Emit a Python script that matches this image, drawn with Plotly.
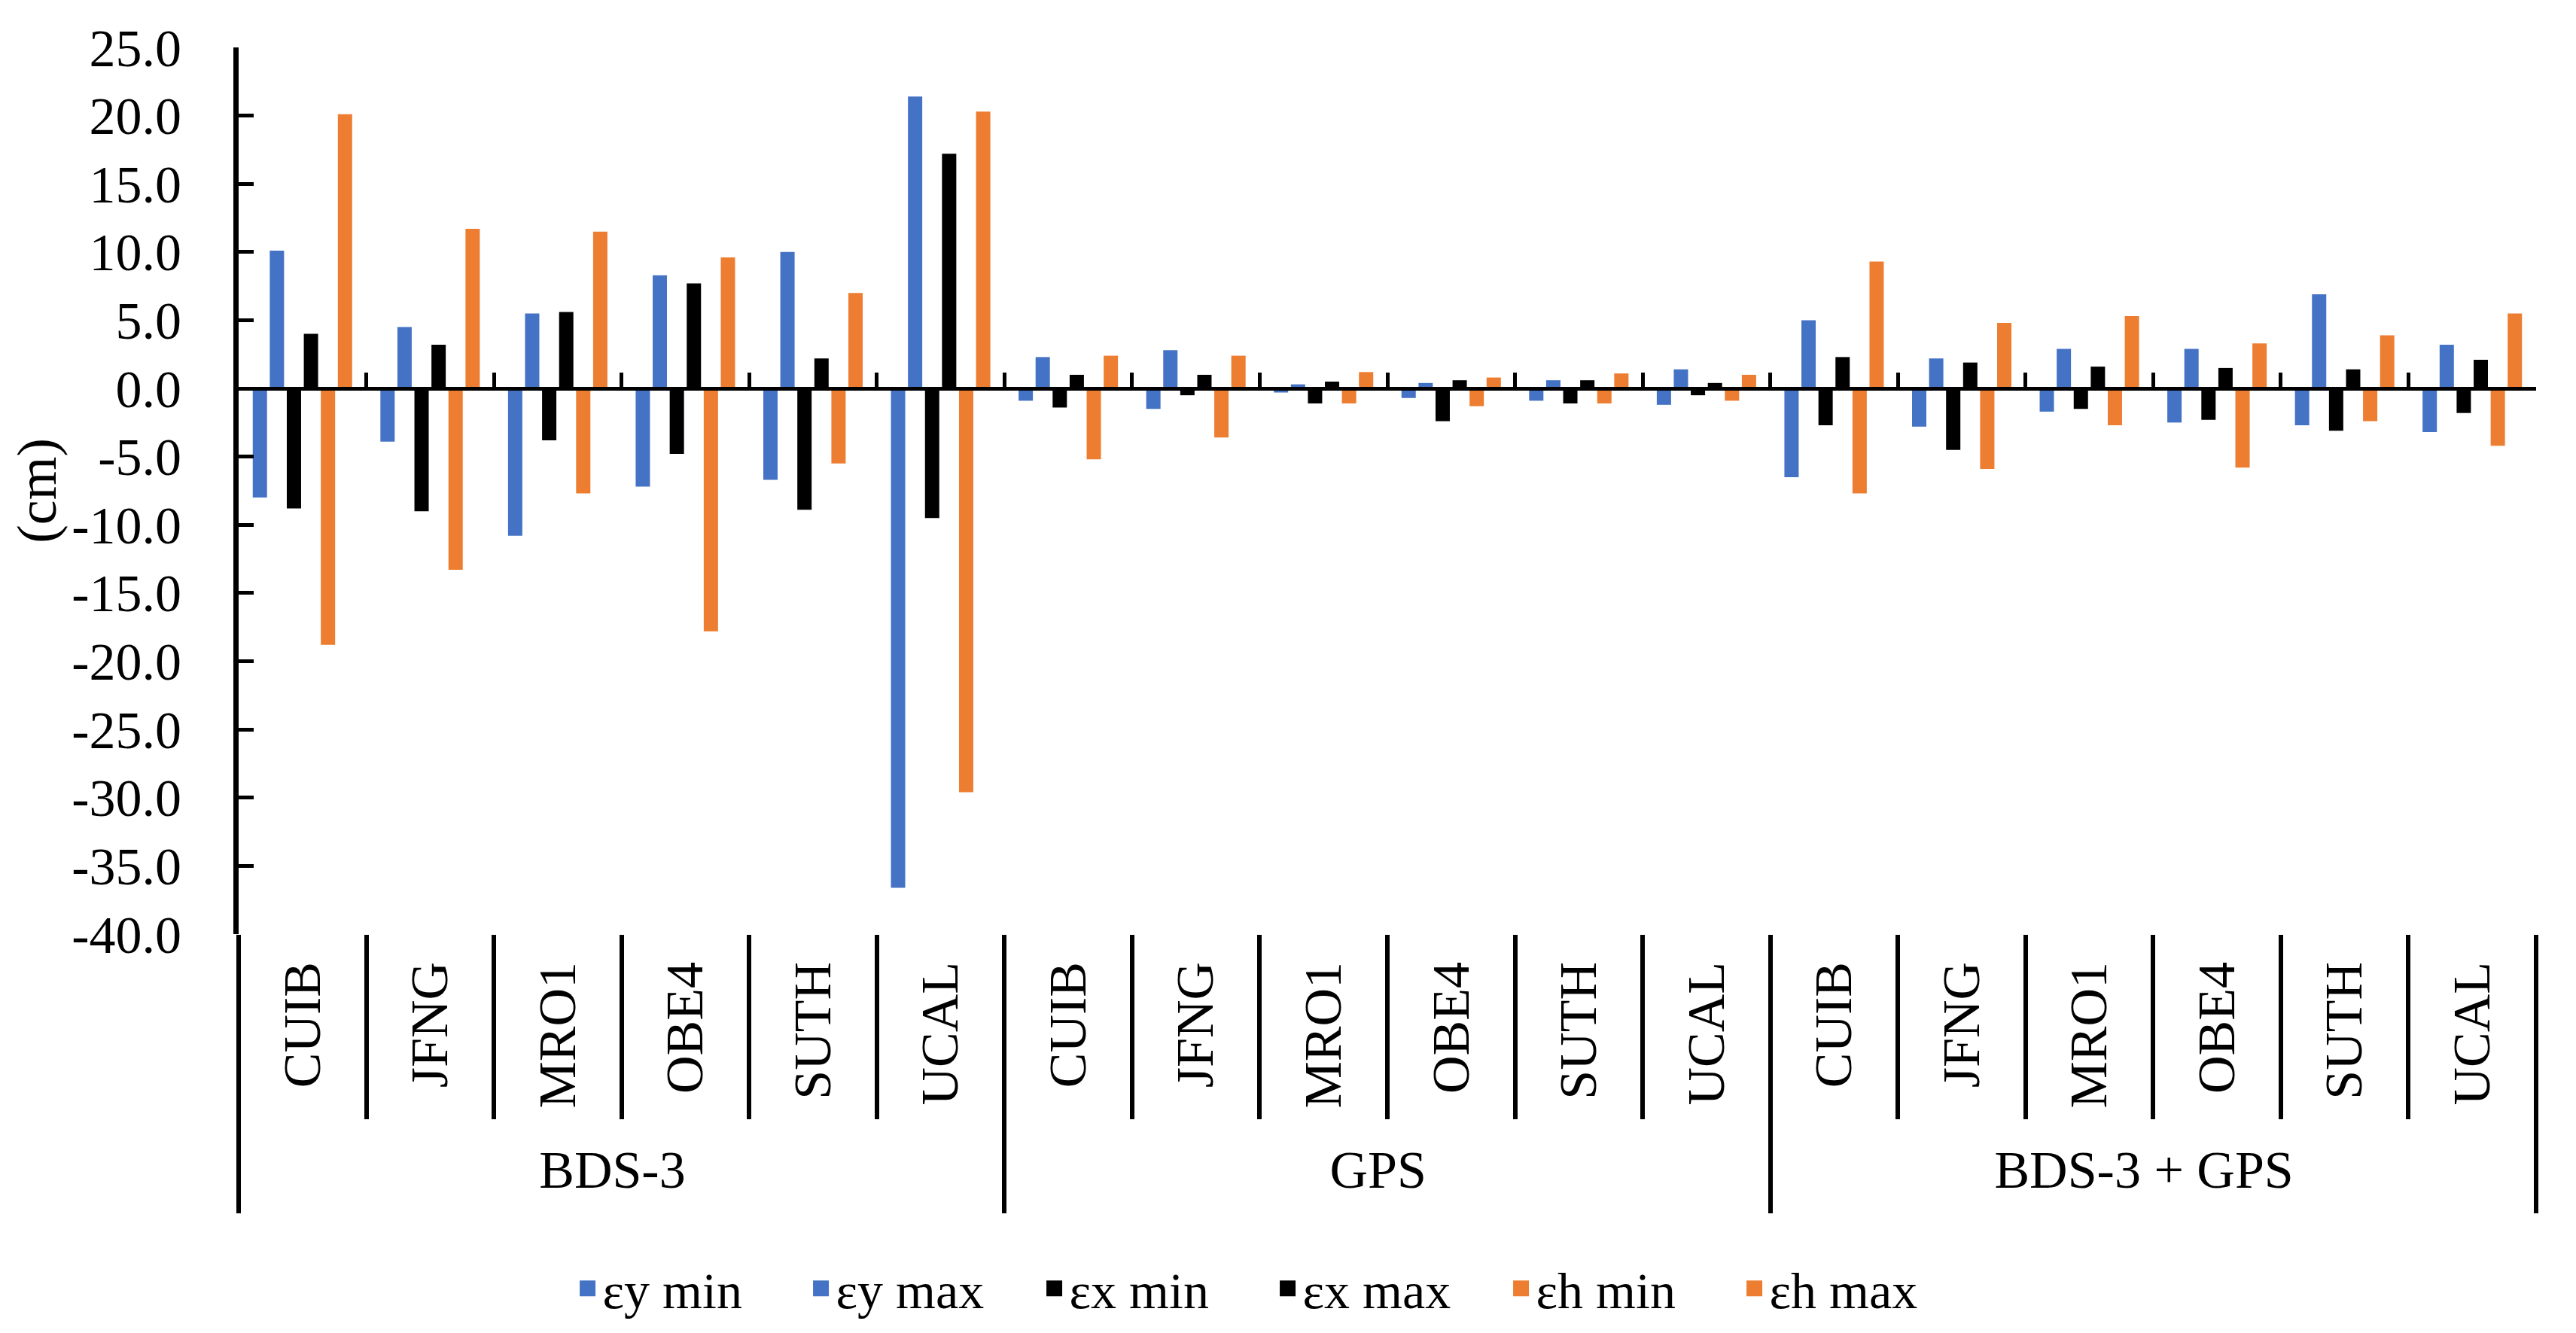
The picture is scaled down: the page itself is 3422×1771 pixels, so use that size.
import plotly.graph_objects as go

systems = ["BDS-3", "GPS", "BDS-3 + GPS"]
stations = ["CUIB", "JFNG", "MRO1", "OBE4", "SUTH", "UCAL"]

ey_min = [-8.0, -3.9, -10.8, -7.2, -6.7, -36.6, -0.9, -1.5, -0.3, -0.7, -0.9, -1.2, -6.5, -2.8, -1.7, -2.5, -2.7, -3.2]
ey_max = [10.1, 4.5, 5.5, 8.3, 10.0, 21.4, 2.3, 2.8, 0.3, 0.4, 0.6, 1.4, 5.0, 2.2, 2.9, 2.9, 6.9, 3.2]
ex_min = [-8.8, -9.0, -3.8, -4.8, -8.9, -9.5, -1.4, -0.5, -1.1, -2.4, -1.1, -0.5, -2.7, -4.5, -1.5, -2.3, -3.1, -1.8]
ex_max = [4.0, 3.2, 5.6, 7.7, 2.2, 17.2, 1.0, 1.0, 0.5, 0.6, 0.6, 0.4, 2.3, 1.9, 1.6, 1.5, 1.4, 2.1]
eh_min = [-18.8, -13.3, -7.7, -17.8, -5.5, -29.6, -5.2, -3.6, -1.1, -1.3, -1.1, -0.9, -7.7, -5.9, -2.7, -5.8, -2.4, -4.2]
eh_max = [20.1, 11.7, 11.5, 9.6, 7.0, 20.3, 2.4, 2.4, 1.2, 0.8, 1.1, 1.0, 9.3, 4.8, 5.3, 3.3, 3.9, 5.5]

series_names = ["εy min", "εy max", "εx min", "εx max", "εh min", "εh max"]
series_colors = ["#4472C4", "#4472C4", "#000000", "#000000", "#ED7D31", "#ED7D31"]
series_values = [ey_min, ey_max, ex_min, ex_max, eh_min, eh_max]

y_tick_vals = [25, 20, 15, 10, 5, 0, -5, -10, -15, -20, -25, -30, -35, -40]
y_tick_text = ["25.0", "20.0", "15.0", "10.0", "5.0", "0.0", "-5.0", "-10.0", "-15.0",
               "-20.0", "-25.0", "-30.0", "-35.0", "-40.0"]
y_min, y_max = -40, 25

FONT = "Liberation Serif, Times New Roman, serif"
W, H = 3406, 1755

x_multi = [[s for s in systems for _ in stations], stations * len(systems)]
n_st = len(stations)
n_cat = len(systems) * n_st
group_bounds = [g * n_st - 0.5 for g in range(len(systems) + 1)]

fig = go.Figure()
for name, col, vals in zip(series_names, series_colors, series_values):
    fig.add_trace(go.Bar(x=x_multi, y=vals, name=name, marker_color=col,
                         marker_line_width=0, showlegend=False))

# invisible helper traces registering categories on overlay axes
fig.add_trace(go.Scatter(x=x_multi, y=ey_max, xaxis="x2", mode="markers",
                         marker=dict(opacity=0, size=1), showlegend=False, hoverinfo="skip"))
fig.add_trace(go.Scatter(x=x_multi, y=ey_max, xaxis="x3", mode="markers",
                         marker=dict(opacity=0, size=1), showlegend=False, hoverinfo="skip"))

# legend entries (no data points)
for name, col in zip(series_names, series_colors):
    fig.add_trace(go.Scatter(x=[None], y=[None], xaxis="x4", mode="markers", name=name,
                             marker=dict(symbol="square", size=16, color=col,
                                         line=dict(width=5, color=col))))

xr = [-0.5, n_cat - 0.5]
zero_pos = (0 - y_min) / (y_max - y_min)

fig.update_layout(
    width=W, height=H,
    margin=dict(l=309, r=45, t=55, b=522, pad=0),
    paper_bgcolor="white", plot_bgcolor="white",
    font=dict(family=FONT, size=70, color="black"),
    barmode="group", bargap=0.2, bargroupgap=0.16,
    xaxis=dict(type="multicategory", range=xr, showgrid=False, showline=False, ticks="",
               tickangle=-90, tickfont=dict(family=FONT, size=70, color="black"),
               showdividers=False, ticklabelstandoff=22),
    xaxis2=dict(type="multicategory", range=xr, overlaying="x", anchor="free", position=zero_pos,
                side="bottom", showgrid=False, showline=True, linecolor="black", linewidth=5,
                ticks="inside", ticklen=19, tickwidth=5, tickcolor="black",
                showticklabels=False, showdividers=False),
    xaxis3=dict(type="multicategory", range=xr, overlaying="x", anchor="y", side="bottom",
                showgrid=False, showline=False, ticks="outside", ticklen=245, tickwidth=6,
                tickcolor="black", showticklabels=False, showdividers=False),
    xaxis4=dict(type="linear", range=xr, overlaying="x", anchor="y", side="bottom",
                showgrid=False, showline=False, zeroline=False, tickmode="array",
                tickvals=group_bounds, ticks="outside", ticklen=370, tickwidth=6,
                tickcolor="black", showticklabels=False),
    yaxis=dict(range=[y_min, y_max], tickvals=y_tick_vals, ticktext=y_tick_text,
               showgrid=False, zeroline=False, showline=True, linecolor="black", linewidth=7,
               ticks="inside", ticklen=20, tickwidth=5, tickcolor="black",
               tickfont=dict(family=FONT, size=70, color="black"), ticklabelstandoff=55,
               title=dict(text="(cm)", font=dict(family=FONT, size=74, color="black"), standoff=20)),
    legend=dict(orientation="h", xref="container", yref="container", x=0.494, xanchor="center",
                y=0.029, yanchor="middle", font=dict(family=FONT, size=68, color="black"),
                entrywidth=265, itemwidth=30, bgcolor="rgba(0,0,0,0)"),
)

fig.write_html("out.html")
